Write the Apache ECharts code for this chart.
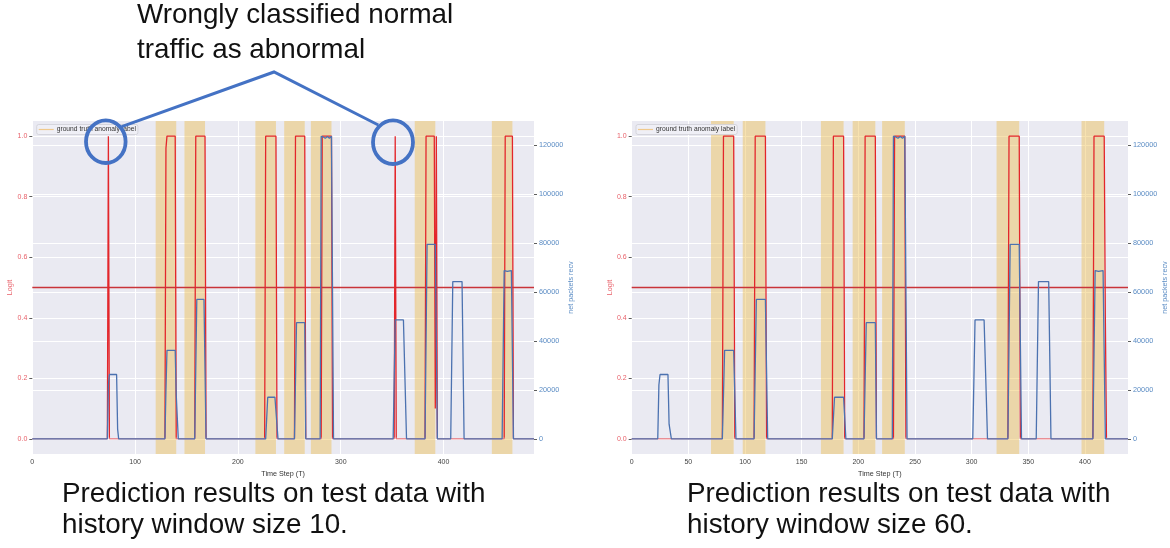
<!DOCTYPE html>
<html>
<head>
<meta charset="utf-8">
<script src="https://cdn.jsdelivr.net/npm/echarts@6/dist/echarts.min.js"></script>
<style>
  html, body { margin: 0; padding: 0; background: #ffffff; }
  #chart { width: 1170px; height: 548px; }
</style>
</head>
<body>
<div id="chart"></div>
<script>
// ---- data -----------------------------------------------------------------
// Ground-truth anomaly intervals [start, end] in time steps
const anomalySpansW10 = [[120,140],[148,168],[217,237],[245,265],[271,291],[372,392],[447,467]];
const anomalySpansW60 = [[70,90],[98,118],[167,187],[195,215],[221,241],[322,342],[397,417]];

// Model output (logit) as [time step, value] breakpoints
const logitW10 = [[0,0],[73,0],[74,1],[75,0],[129,0],[130,0.96],[131,1],[139,1],[140,0],
  [158,0],[159,1],[168,1],[169,0],[226,0],[227,1],[237,1],[238,0],[255,0],[256,1],[265,1],[266,0],
  [281,0],[282,1],[291,1],[292,0],[352,0],[353,1],[354,0],[382,0],[383,1],[391,1],[392,0.1],
  [393,1],[394,0],[459,0],[460,1],[467,1],[468,0],[488,0]];
const logitW60 = [[0,0],[80,0],[81,1],[90,1],[91,0],[108,0],[109,1],[118,1],[119,0],
  [177,0],[178,1],[187,1],[188,0],[205,0],[206,1],[215,1],[216,0],[231,0],[232,1],[241,1],[242,0],
  [332,0],[333,1],[342,1],[343,0],[407,0],[408,1],[417,1],[418,0.4],[419,0],[438,0]];

// Net packets received as [time step, packets] breakpoints
const packetsW10 = [[0,0],[73,0],[74,22000],[75,26300],[82,26300],[83,4000],[84,0],
  [129,0],[130,20000],[131,36200],[139,36200],[140,18000],[142,0],
  [158,0],[160,57000],[167,57000],[169,0],
  [227,0],[229,17000],[236,17000],[239,0],
  [255,0],[257,47500],[265,47500],[266,0],
  [280,0],[281,123700],[283,123400],[285,122900],[287,123600],[289,122900],[291,123700],[293,0],
  [351,0],[353,48600],[361,48600],[364,0],
  [382,0],[384,79500],[392,79500],[394,0],
  [407,0],[409,64300],[418,64300],[420,0],
  [457,0],[459,68800],[462,68500],[466,68800],[468,0],
  [488,0]];
const packetsW60 = [[0,0],[23,0],[24,22000],[25,26300],[32,26300],[33,6000],[35,0],
  [80,0],[82,36200],[90,36200],[92,0],
  [108,0],[110,57000],[118,57000],[120,0],
  [177,0],[179,17000],[187,17000],[189,0],
  [205,0],[207,47500],[215,47500],[216,0],
  [230,0],[231,123700],[233,123400],[235,122900],[237,123600],[239,122900],[241,123700],[243,0],
  [301,0],[303,48600],[311,48600],[314,0],
  [332,0],[334,79500],[342,79500],[344,0],
  [357,0],[359,64300],[368,64300],[370,0],
  [407,0],[409,68800],[412,68500],[416,68800],[418,0],
  [438,0]];

// Axis ticks
const xTicksW10 = [0, 100, 200, 300, 400];
const xTicksW60 = [0, 50, 100, 150, 200, 250, 300, 350, 400];
const logitTicks = [0, 0.2, 0.4, 0.6, 0.8, 1.0];
const packetTicks = [0, 20000, 40000, 60000, 80000, 100000, 120000];
const xMaxW10 = 488;
const xMaxW60 = 438;
const threshold = 0.5;

// ---- styling ----------------------------------------------------------------
const FONT = 'Liberation Sans';
const RED = '#e3262b';
const BLUE = '#4c72b0';
const THRESH_RED = '#c9343a';
const LABEL_RED = '#e8616a';
const LABEL_BLUE = '#5b8cc4';
const ANNOT_BLUE = '#4472c4';
const SPAN_NAME = 'ground truth anomaly label';

const chart = echarts.init(document.getElementById('chart'), null, { renderer: 'canvas' });

const grids = [
  { left: 32.3, top: 121, width: 501.7, height: 333 },
  { left: 631.7, top: 121, width: 502.6, height: 333 }
];

function xAxisFor(gi, ticks, max) {
  return {
    type: 'value', gridIndex: gi, min: 0, max: max,
    name: 'Time Step (T)', nameLocation: 'middle', nameGap: 15,
    nameTextStyle: { color: '#333', fontSize: 7.2, fontFamily: FONT },
    axisLine: { show: false, onZero: false },
    axisTick: { show: false, customValues: ticks },
    axisLabel: { customValues: ticks, color: '#444', fontSize: 7, fontFamily: FONT, margin: 5 },
    splitLine: { show: true, lineStyle: { color: '#ffffff', width: 1 } }
  };
}

function logitAxisFor(gi) {
  return {
    type: 'value', gridIndex: gi, position: 'left', min: -0.05, max: 1.05,
    name: 'Logit', nameLocation: 'middle', nameGap: 17,
    nameTextStyle: { color: LABEL_RED, fontSize: 7.2, fontFamily: FONT },
    axisLine: { show: false },
    axisTick: { show: true, customValues: logitTicks, length: 3, lineStyle: { color: '#333', width: 0.8 } },
    axisLabel: { customValues: logitTicks, color: LABEL_RED, fontSize: 7, fontFamily: FONT, margin: 5,
      formatter: v => Number(v).toFixed(1) },
    splitLine: { show: true, lineStyle: { color: '#ffffff', width: 1 } }
  };
}

function packetAxisFor(gi) {
  return {
    type: 'value', gridIndex: gi, position: 'right', min: -6190, max: 129930,
    name: 'net packets recv', nameLocation: 'middle', nameGap: 34,
    nameTextStyle: { color: LABEL_BLUE, fontSize: 7.2, fontFamily: FONT },
    axisLine: { show: false },
    axisTick: { show: true, customValues: packetTicks, length: 3, lineStyle: { color: '#333', width: 0.8 } },
    axisLabel: { customValues: packetTicks, color: LABEL_BLUE, fontSize: 7.3, fontFamily: FONT, margin: 5,
      formatter: v => String(Math.round(v)) },
    splitLine: { show: true, lineStyle: { color: '#ffffff', width: 1 } }
  };
}

// Red logit stroke fades to pink where it lies on the zero baseline
function logitStroke() {
  return new echarts.graphic.LinearGradient(0, 0, 0, 1, [
    { offset: 0, color: RED },
    { offset: 0.985, color: RED },
    { offset: 0.997, color: '#efc3cb' },
    { offset: 1, color: '#efc3cb' }
  ]);
}

function panelSeries(gi, spans, logit, packets, xMax) {
  return [
    {
      name: SPAN_NAME, type: 'line', xAxisIndex: gi, yAxisIndex: gi * 2,
      data: [], color: '#f0c98c', lineStyle: { color: '#f0c98c' }, z: 1,
      markArea: {
        silent: true,
        itemStyle: { color: 'rgba(238,190,80,0.45)' },
        data: spans.map(s => [{ xAxis: s[0] }, { xAxis: s[1] }])
      }
    },
    {
      name: 'threshold', type: 'line', xAxisIndex: gi, yAxisIndex: gi * 2,
      data: [[0, threshold], [xMax, threshold]], showSymbol: false, silent: true, z: 2,
      color: THRESH_RED,
      itemStyle: { color: THRESH_RED },
      lineStyle: { width: 1.4, color: THRESH_RED, opacity: 1 }
    },
    {
      name: 'logit', type: 'line', xAxisIndex: gi, yAxisIndex: gi * 2,
      data: logit, showSymbol: false, z: 3, color: RED,
      lineStyle: { width: 1.3, color: logitStroke() }
    },
    {
      name: 'net packets recv', type: 'line', xAxisIndex: gi, yAxisIndex: gi * 2 + 1,
      data: packets, showSymbol: false, z: 4, color: BLUE,
      lineStyle: { width: 1.3, color: BLUE }
    }
  ];
}

function legendFor(left) {
  return {
    data: [SPAN_NAME], left: left, top: 124.5, orient: 'horizontal',
    backgroundColor: 'rgba(240,240,246,0.9)', borderColor: '#cfcfd6', borderWidth: 0.8, borderRadius: 2,
    padding: [1.5, 2, 1.5, 2], itemWidth: 15, itemHeight: 1.2, itemGap: 2, icon: 'rect',
    textStyle: { color: '#333', fontSize: 6.7, fontFamily: FONT, padding: [0, 0, 0, -2] },
    selectedMode: false
  };
}

function txt(x, y, text) {
  return {
    type: 'text', x: x, y: y, z: 100,
    style: { text: text, font: '27.8px "Liberation Sans"', fill: '#111', align: 'left', verticalAlign: 'middle' }
  };
}

const option = {
  animation: false,
  backgroundColor: '#ffffff',
  textStyle: { fontFamily: FONT },
  grid: grids.map(g => Object.assign({ show: true, backgroundColor: '#eaeaf2', borderWidth: 0 }, g)),
  xAxis: [xAxisFor(0, xTicksW10, xMaxW10), xAxisFor(1, xTicksW60, xMaxW60)],
  yAxis: [logitAxisFor(0), packetAxisFor(0), logitAxisFor(1), packetAxisFor(1)],
  legend: [legendFor(36.7), legendFor(636)],
  series: [].concat(
    panelSeries(0, anomalySpansW10, logitW10, packetsW10, xMaxW10),
    panelSeries(1, anomalySpansW60, logitW60, packetsW60, xMaxW60)
  ),
  graphic: [
    txt(137, 15, 'Wrongly classified normal'),
    txt(137, 50, 'traffic as abnormal'),
    {
      type: 'polyline', z: 100,
      shape: { points: [[121.7, 126.7], [274, 72], [378.3, 125]] },
      style: { stroke: ANNOT_BLUE, lineWidth: 3, fill: null }
    },
    {
      type: 'ellipse', z: 100,
      shape: { cx: 105.8, cy: 141.7, rx: 19.8, ry: 21.3 },
      style: { stroke: ANNOT_BLUE, lineWidth: 3.8, fill: null }
    },
    {
      type: 'ellipse', z: 100,
      shape: { cx: 393, cy: 142.2, rx: 20, ry: 21.8 },
      style: { stroke: ANNOT_BLUE, lineWidth: 3.8, fill: null }
    },
    txt(62, 494, 'Prediction results on test data with'),
    txt(62, 525, 'history window size 10.'),
    txt(687, 494, 'Prediction results on test data with'),
    txt(687, 525, 'history window size 60.')
  ]
};

chart.setOption(option);
</script>
</body>
</html>
